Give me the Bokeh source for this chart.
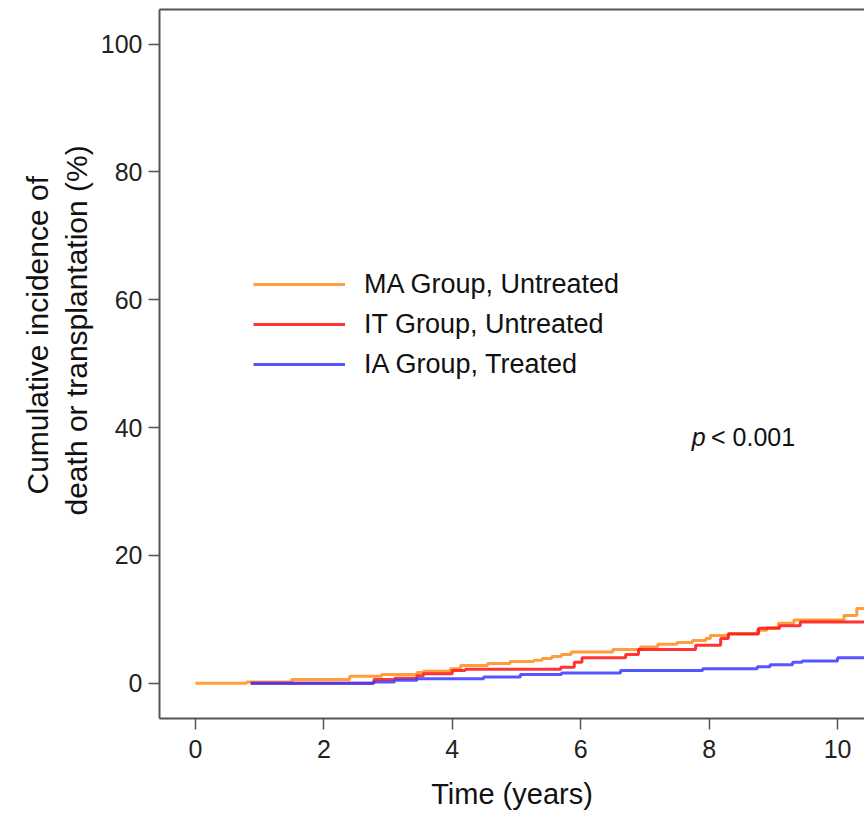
from bokeh.plotting import figure
from bokeh.models import (Range1d, LinearAxis, FixedTicker, Legend, LegendItem, Label,
                          Title)
from bokeh.embed import file_html
from bokeh.resources import INLINE

# ---- data ----
ma_time = [0, 0.8, 1.5, 2.4, 2.9, 3.45, 3.55, 3.97, 4.13, 4.55, 4.9, 5.27, 5.4, 5.55,
           5.7, 5.85, 6.5, 6.93, 7.2, 7.5, 7.74, 7.95, 8.02, 8.3, 8.75, 8.9, 9.08, 9.32,
           10.1, 10.3, 10.5]
ma_cum = [0, 0.2, 0.6, 1.1, 1.4, 1.7, 1.9, 2.3, 2.8, 3.1, 3.4, 3.6, 3.9, 4.2,
          4.5, 4.9, 5.3, 5.7, 6.1, 6.4, 6.7, 7.0, 7.5, 7.8, 8.3, 8.7, 9.4, 9.9,
          10.6, 11.7, 11.7]

it_time = [0.86, 2.78, 3.1, 3.45, 3.55, 4.0, 4.2, 5.69, 5.9, 6.02, 6.7, 6.9, 7.79,
           8.18, 8.3, 8.77, 9.1, 9.42, 10.5]
it_cum = [0, 0.6, 0.8, 1.2, 1.5, 2.0, 2.2, 2.5, 3.3, 4.0, 4.5, 5.3, 5.95,
          7.0, 7.7, 8.6, 9.0, 9.6, 9.6]

ia_time = [0.86, 2.77, 3.1, 3.45, 4.49, 5.06, 5.7, 6.62, 7.9, 8.75, 8.95, 9.3, 9.45,
           10.0, 10.5]
ia_cum = [0, 0.2, 0.5, 0.7, 1.0, 1.4, 1.6, 2.0, 2.3, 2.6, 2.9, 3.3, 3.5, 4.0, 4.0]

group_labels = ["MA Group, Untreated", "IT Group, Untreated", "IA Group, Treated"]
x_ticks = [0, 2, 4, 6, 8, 10]
y_ticks = [0, 20, 40, 60, 80, 100]
y_label_lines = ["Cumulative incidence of", "death or transplantation (%)"]
p_value_text = "< 0.001"

FONT = "Liberation Sans"
AX = "#555555"

p = figure(width=864, height=816, output_backend="svg", toolbar_location=None,
           x_range=Range1d(-0.56, 10.42), y_range=Range1d(-5.5, 105.4),
           min_border_left=159, min_border_right=0, min_border_top=9,
           min_border_bottom=98)
p.outline_line_color = None
p.grid.visible = False
p.background_fill_color = "white"

lines = []
for t, v, col in [(ma_time, ma_cum, "#FF8C1A"),
                  (it_time, it_cum, "#FF1010"),
                  (ia_time, ia_cum, "#3838FF")]:
    r = p.step(t, v, mode="after", line_color=col, line_width=3, line_alpha=0.85)
    lines.append(r)

# axes
for ax in (p.xaxis[0], p.yaxis[0]):
    ax.axis_line_color = AX
    ax.axis_line_width = 2
    ax.major_tick_line_color = AX
    ax.major_tick_line_width = 1.5
    ax.major_tick_out = 11
    ax.major_tick_in = 0
    ax.minor_tick_line_color = None
    ax.major_label_text_font = FONT
    ax.major_label_text_font_size = "25px"
    ax.major_label_text_color = "#222222"
    ax.axis_label_text_font = FONT
    ax.axis_label_text_font_size = "29px"
    ax.axis_label_text_font_style = "normal"
    ax.axis_label_text_color = "#111111"

p.xaxis[0].ticker = FixedTicker(ticks=x_ticks)
p.yaxis[0].ticker = FixedTicker(ticks=y_ticks)
p.xaxis[0].major_label_standoff = 10
p.yaxis[0].major_label_standoff = 6
p.xaxis[0].axis_label = "Time (years)"
p.xaxis[0].axis_label_standoff = 17

# two-line y label as stacked left titles (inner line first)
for txt, off, so in [(y_label_lines[1], 203, 9), (y_label_lines[0], 224, 0)]:
    p.add_layout(Title(text=txt, align="left", offset=off, text_font=FONT,
                       text_font_size="30px", text_font_style="normal",
                       text_color="#111111", standoff=so, text_line_height=0.95),
                 "left")

top = LinearAxis(ticker=FixedTicker(ticks=[]), axis_line_color=AX, axis_line_width=2,
                 major_label_text_font_size="0px", major_tick_line_color=None,
                 minor_tick_line_color=None)
p.add_layout(top, "above")

legend = Legend(items=[LegendItem(label=group_labels[i], renderers=[lines[i]])
                       for i in range(3)],
                location=(94, 334), orientation="vertical",
                glyph_width=92, glyph_height=40, label_height=40, spacing=0,
                label_standoff=19, padding=0, margin=0,
                border_line_color=None, background_fill_alpha=0,
                label_text_font=FONT, label_text_font_size="27px",
                label_text_color="#111111")
p.add_layout(legend)

p.add_layout(Label(x=7.73, y=38.5, text="p", text_font=FONT,
                   text_font_style="italic", text_font_size="25px",
                   text_baseline="middle", text_color="#111111"))
p.add_layout(Label(x=8.03, y=38.5, text=p_value_text, text_font=FONT,
                   text_font_size="25px", text_baseline="middle",
                   text_color="#111111"))

open("out.html", "w").write(file_html(p, INLINE))
